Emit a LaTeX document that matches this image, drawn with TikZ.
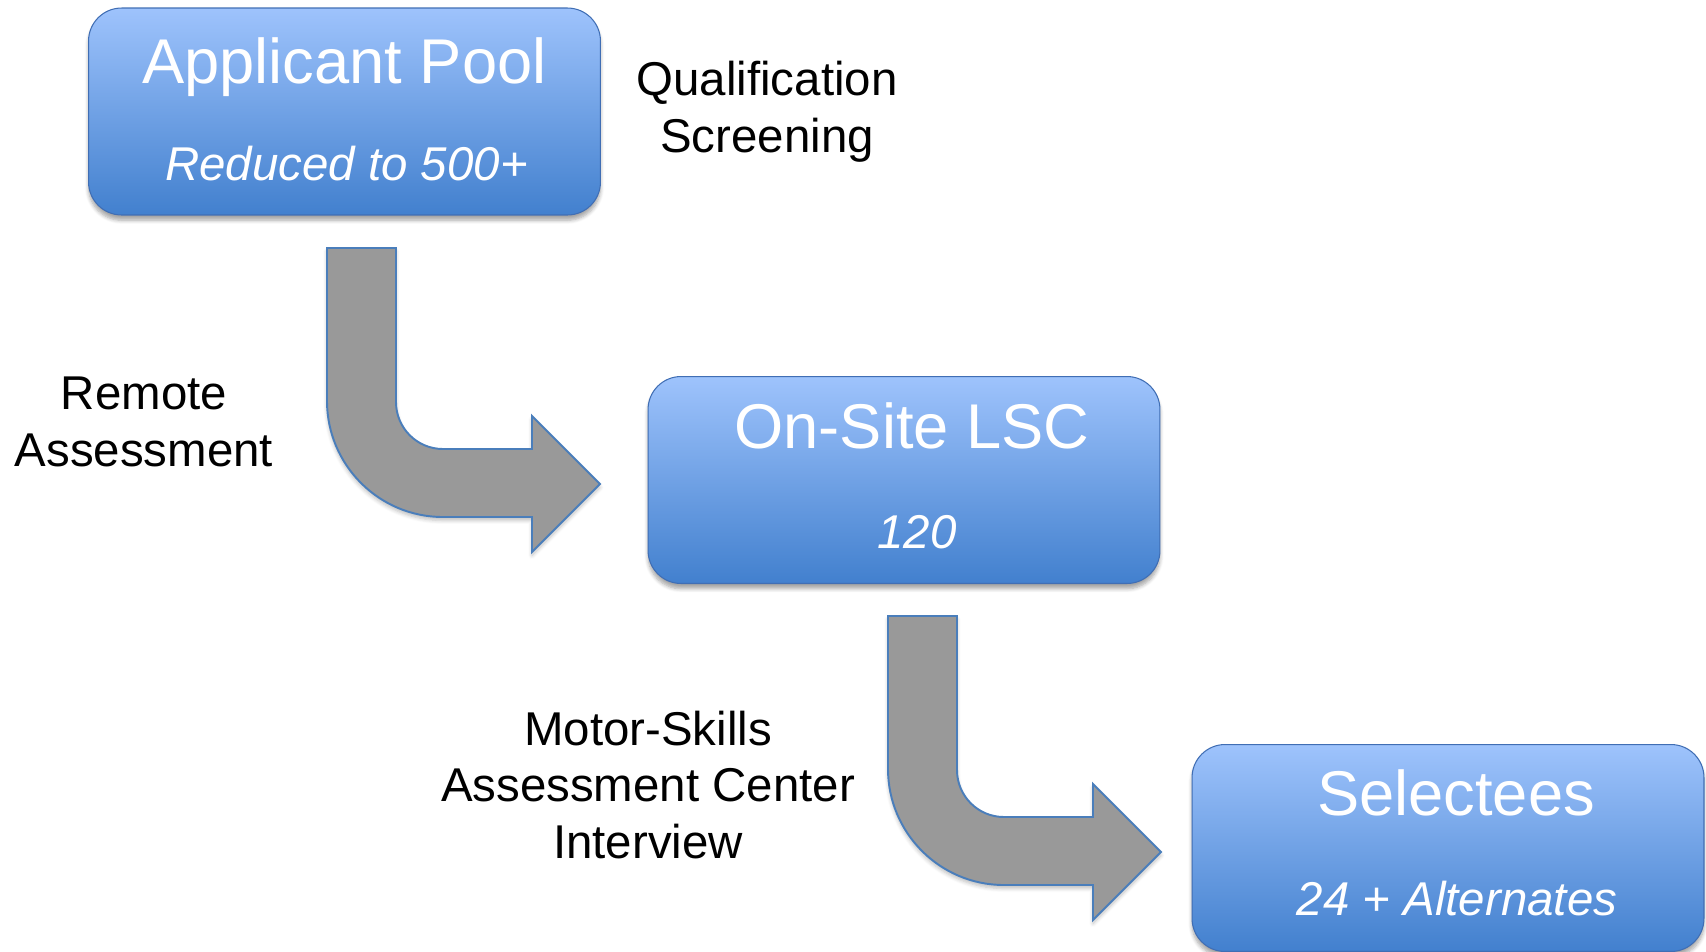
\documentclass[tikz,border=0pt]{standalone}
\usepackage{fontspec}
\setmainfont{Liberation Sans}
\usepackage{xcolor}
\definecolor{Col1}{RGB}{158,195,252}
\definecolor{Col2}{RGB}{66,128,206}
\definecolor{Col3}{RGB}{64,110,180}
\definecolor{Col4}{RGB}{153,153,153}
\definecolor{Col5}{RGB}{74,126,187}
\usepackage{tikz}
\usetikzlibrary{shadows.blur}
\usetikzlibrary{positioning}
\tikzstyle{Box}=[rectangle,rounded corners=0.66cm,draw=Col3,line width=0.6pt,
top color=Col1,bottom color=Col2,minimum width=10.24cm,minimum height=4.14cm,
inner sep=0pt,blur shadow={shadow xshift=0pt,shadow yshift=-3pt,
shadow blur steps=6,shadow opacity=35}]
\tikzstyle{Title}=[text=white,font=\fontsize{36}{43}\selectfont,anchor=base]
\tikzstyle{Sub}=[text=white,font=\fontsize{27}{32}\selectfont\itshape,
anchor=base]
\tikzstyle{Label}=[font=\fontsize{27}{32.4}\selectfont,align=center]
\tikzstyle{Bend}=[fill=Col4,draw=Col5,line width=1.1pt,line join=miter,
blur shadow={shadow xshift=0pt,shadow yshift=-2pt,shadow blur steps=5,
shadow opacity=25}]
\newcommand{\BendArrow}[1]{%
  \draw[Bend,shift={(#1)}](0,0)--(69,0)--(69,154)
    ..controls(69,180)and(90,201)..(116,201)--(205,201)--(205,168)
    --(273,236)--(205,304)--(205,269)--(116,269)
    ..controls(52,269)and(0,217)..(0,153)--cycle;}

\begin{document}
\begin{tikzpicture}[x=0.02cm,y=-0.02cm]
        \useasboundingbox(0,0)rectangle(1706,951);
        \coordinate(a1)at(327,248);
        \coordinate(a2)at(888,616);
        \BendArrow{a1}
        \BendArrow{a2}
        \node[Box](1)at(344.5,111.5){};
        \node[Box](2)at(904,480){};
        \node[Box](3)at(1448,848){};
        \node[Title](1t)at([yshift=-1.52cm]1.north){Applicant Pool};
        \node[Sub](1s)at([xshift=0.04cm,yshift=-3.46cm]1.north)
            {Reduced to 500+};
        \node[Title](2t)at([xshift=0.16cm,yshift=-1.46cm]2.north)
            {On-Site LSC};
        \node[Sub](2s)at([xshift=0.26cm,yshift=-3.46cm]2.north){120};
        \node[Title](3t)at([xshift=0.16cm,yshift=-1.44cm]3.north)
            {Selectees};
        \node[Sub](3s)at([xshift=0.18cm,yshift=-3.44cm]3.north)
            {24 + Alternates};
        \node[Label](q)at(767,112){Qualification\\Screening};
        \node[Label](r)at(144,422){Remote\\Assessment};
        \node[Label](m)at(648,785){Motor-Skills\\Assessment Center\\Interview};
    \end{tikzpicture}
\end{document}
